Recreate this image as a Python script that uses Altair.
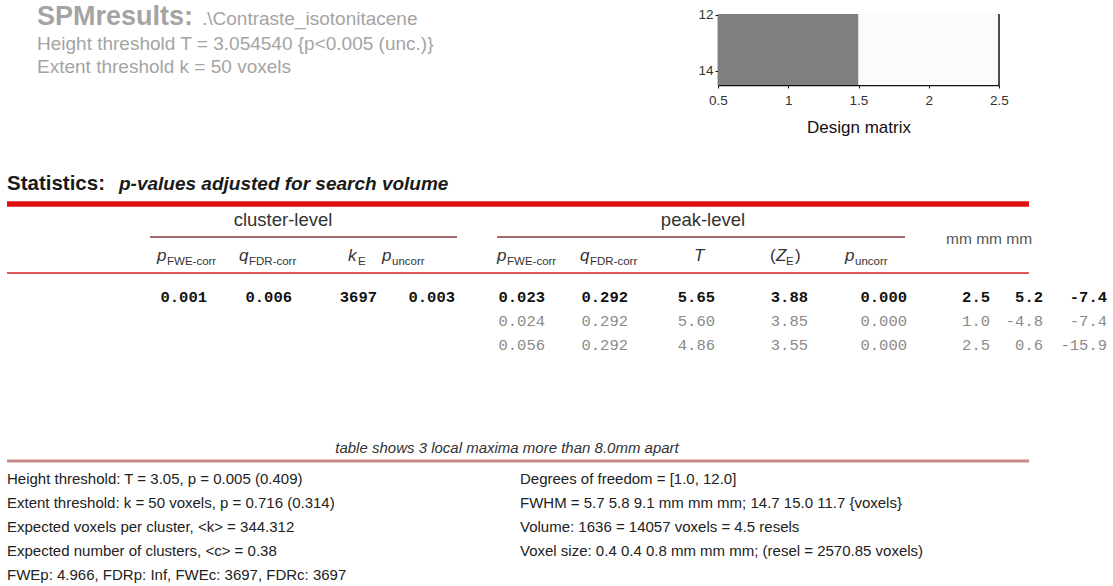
import altair as alt
import pandas as pd

W, H = 1113, 586

# ---------------- data (text content) ----------------
title_main = "SPMresults:"
title_file = ".\\Contraste_isotonitacene"
header_lines = ["Height threshold T = 3.054540  {p<0.005 (unc.)}",
                "Extent threshold k = 50 voxels"]

stats_label = "Statistics:"
stats_sub = "p-values adjusted for search volume"
group_labels = ["cluster-level", "peak-level"]
coord_units = "mm mm mm"

# column headers: (main symbol, subscript)
col_main = ["p", "q", "k", "p", "p", "q", "T", "Z", "p"]
col_sub = ["FWE-corr", "FDR-corr", "E", "uncorr", "FWE-corr", "FDR-corr", "", "E", "uncorr"]

cluster_pfwe = ["0.001", "", ""]
cluster_qfdr = ["0.006", "", ""]
cluster_ke = ["3697", "", ""]
cluster_punc = ["0.003", "", ""]
peak_pfwe = ["0.023", "0.024", "0.056"]
peak_qfdr = ["0.292", "0.292", "0.292"]
peak_t = ["5.65", "5.60", "4.86"]
peak_ze = ["3.88", "3.85", "3.55"]
peak_punc = ["0.000", "0.000", "0.000"]
coord_x = ["2.5", "1.0", "2.5"]
coord_y = ["5.2", "-4.8", "0.6"]
coord_z = ["-7.4", "-7.4", "-15.9"]

footnote = "table shows 3 local maxima more than 8.0mm apart"
footer_left = ["Height threshold: T = 3.05, p = 0.005 (0.409)",
               "Extent threshold: k = 50 voxels, p = 0.716 (0.314)",
               "Expected voxels per cluster, <k> = 344.312",
               "Expected number of clusters, <c> = 0.38",
               "FWEp: 4.966, FDRp: Inf, FWEc: 3697, FDRc: 3697"]
footer_right = ["Degrees of freedom = [1.0, 12.0]",
                "FWHM = 5.7 5.8 9.1 mm mm mm; 14.7 15.0 11.7 {voxels}",
                "Volume: 1636 = 14057 voxels = 4.5 resels",
                "Voxel size: 0.4 0.4 0.8 mm mm mm; (resel = 2570.85 voxels)"]

# design matrix cells
dm_x0 = [0.5, 1.5]
dm_x1 = [1.5, 2.5]
dm_y0 = [11.97, 11.97]
dm_y1 = [14.5, 14.5]
dm_shade = ["#7f7f7f", "#fbfbfb"]
dm_xticks = [0.5, 1, 1.5, 2, 2.5]
dm_yticks = [12, 14]

# ---------------- layout (positions / styles) ----------------
SANS = "Liberation Sans"
MONO = "Liberation Mono"
xs = alt.Scale(domain=[0, W], range=[0, W])
ys = alt.Scale(domain=[0, H], range=[0, H])


def text_layer(rows, baseline="middle", **mk):
    df = pd.DataFrame(rows, columns=["x", "y", "t"])
    return alt.Chart(df).mark_text(baseline=baseline, **mk).encode(
        x=alt.X("x:Q", scale=xs, axis=None),
        y=alt.Y("y:Q", scale=ys, axis=None),
        text="t:N",
    )


def rule_layer(rows, color, width):
    df = pd.DataFrame(rows, columns=["x", "x2", "y"])
    return alt.Chart(df).mark_rule(color=color, strokeWidth=width).encode(
        x=alt.X("x:Q", scale=xs, axis=None),
        x2="x2:Q",
        y=alt.Y("y:Q", scale=ys, axis=None),
    )


layers = []
gray_hdr = "#a4a4a4"
layers.append(text_layer([(37, 25, title_main)], baseline="alphabetic", font=SANS,
                         fontSize=27, fontWeight="bold", color=gray_hdr, align="left"))
layers.append(text_layer([(202, 25, title_file)], baseline="alphabetic", font=SANS,
                         fontSize=19, color=gray_hdr, align="left"))
layers.append(text_layer([(37, 50, header_lines[0]), (37, 73, header_lines[1])],
                         baseline="alphabetic", font=SANS, fontSize=19,
                         color=gray_hdr, align="left"))

layers.append(text_layer([(7, 184, stats_label)], font=SANS, fontSize=20.5,
                         fontWeight="bold", color="#1a1a1a", align="left"))
layers.append(text_layer([(119, 184, stats_sub)], font=SANS, fontSize=19,
                         fontWeight="bold", fontStyle="italic", color="#1a1a1a",
                         align="left"))

# thick red line, thin red line, group underlines, footer line
layers.append(rule_layer([(7, 1029, 204)], "#e01010", 5.5))
layers.append(rule_layer([(7, 1029, 273)], "#d82020", 1.6))
layers.append(rule_layer([(150, 457, 237), (497, 905, 237)], "#a26a6a", 2))
layers.append(rule_layer([(7, 1029, 461)], "#c98a8a", 3))

layers.append(text_layer([(283, 220, group_labels[0]), (703, 220, group_labels[1])],
                         font=SANS, fontSize=18.5, color="#333333", align="center"))
layers.append(text_layer([(946, 239, coord_units)], font=SANS, fontSize=15.5,
                         color="#555555", align="left"))

# column headers
hdr_x = [157, 239, 348, 382, 497, 580, 694, 776, 845]
hdr_y = 256
main_rows = [(hdr_x[i], hdr_y, col_main[i]) for i in range(len(col_main))]
sub_rows = [(hdr_x[i] + 10, hdr_y + 6, col_sub[i]) for i in range(len(col_sub)) if col_sub[i]]
layers.append(text_layer(main_rows, font=SANS, fontSize=17, fontStyle="italic",
                         color="#333333", align="left"))
layers.append(text_layer(sub_rows, font=SANS, fontSize=11.5, color="#333333",
                         align="left"))
layers.append(text_layer([(hdr_x[7] - 6, hdr_y, "("), (hdr_x[7] + 19, hdr_y, ")")],
                         font=SANS, fontSize=17, color="#333333", align="left"))

# table values (right-aligned columns)
col_right = [207, 292, 377, 455, 545, 628, 715, 808, 907, 990, 1043, 1107]
columns = [cluster_pfwe, cluster_qfdr, cluster_ke, cluster_punc, peak_pfwe,
           peak_qfdr, peak_t, peak_ze, peak_punc, coord_x, coord_y, coord_z]
row_y = [297, 321, 345]
bold_rows, light_rows = [], []
for c, vals in enumerate(columns):
    for r, v in enumerate(vals):
        if not v:
            continue
        (bold_rows if r == 0 else light_rows).append((col_right[c], row_y[r], v))
layers.append(text_layer(bold_rows, font=MONO, fontSize=15.5, fontWeight="bold",
                         color="#111111", align="right"))
layers.append(text_layer(light_rows, font=MONO, fontSize=15.5, color="#8a8a8a",
                         align="right"))

# footer
layers.append(text_layer([(507, 448, footnote)], font=SANS, fontSize=15,
                         fontStyle="italic", color="#333333", align="center"))
fy = [479, 503, 527, 551, 575]
layers.append(text_layer([(7, fy[i], t) for i, t in enumerate(footer_left)],
                         font=SANS, fontSize=15, color="#222222", align="left"))
layers.append(text_layer([(520, fy[i], t) for i, t in enumerate(footer_right)],
                         font=SANS, fontSize=15, color="#222222", align="left"))

main = alt.layer(*layers)

# ---------------- design matrix (own scales & axes) ----------------
dm_df = pd.DataFrame({"x0": dm_x0, "x1": dm_x1, "y0": dm_y0, "y1": dm_y1,
                      "shade": dm_shade})
dxs = alt.Scale(domain=[0.5, 2.5], range=[718, 999])
dys = alt.Scale(domain=[11.97, 14.5], range=[14, 85])
dm_rect = alt.Chart(dm_df).mark_rect().encode(
    x=alt.X("x0:Q", scale=dxs,
            axis=alt.Axis(orient="bottom", offset=-(H - 85), values=dm_xticks,
                          format="~g", title="Design matrix", titleFontSize=17,
                          titleFont=SANS, titleFontWeight="normal",
                          titleColor="#111111", titlePadding=13, labelFont=SANS,
                          labelFontSize=13.5, labelColor="#333333", labelPadding=5,
                          domainColor="#111111", domainWidth=1.5, tickColor="#111111",
                          tickSize=3, grid=False, labelFlush=False)),
    x2="x1:Q",
    y=alt.Y("y0:Q", scale=dys,
            axis=alt.Axis(orient="left", offset=-718, values=dm_yticks, title=None,
                          format="d", labelFont=SANS, labelFontSize=13.5,
                          labelColor="#333333", domainColor="#111111", domainWidth=1.5,
                          tickColor="#111111", tickSize=3, grid=False, labelPadding=2)),
    y2="y1:Q",
    color=alt.Color("shade:N", scale=None),
)
dm_border = alt.Chart(pd.DataFrame({"x": [2.5], "y0": [11.97], "y1": [14.5]})).mark_rule(
    color="#111111", strokeWidth=1.5).encode(
    x=alt.X("x:Q", scale=dxs), y=alt.Y("y0:Q", scale=dys), y2="y1:Q")
dm = alt.layer(dm_rect, dm_border)

chart = alt.layer(main, dm).resolve_scale(x="independent", y="independent").properties(
    width=W, height=H, autosize=alt.AutoSizeParams(type="none"), padding=0,
    background="white"
).configure_view(stroke=None)

chart.save("out.html", embed_options={"renderer": "svg", "actions": False})
